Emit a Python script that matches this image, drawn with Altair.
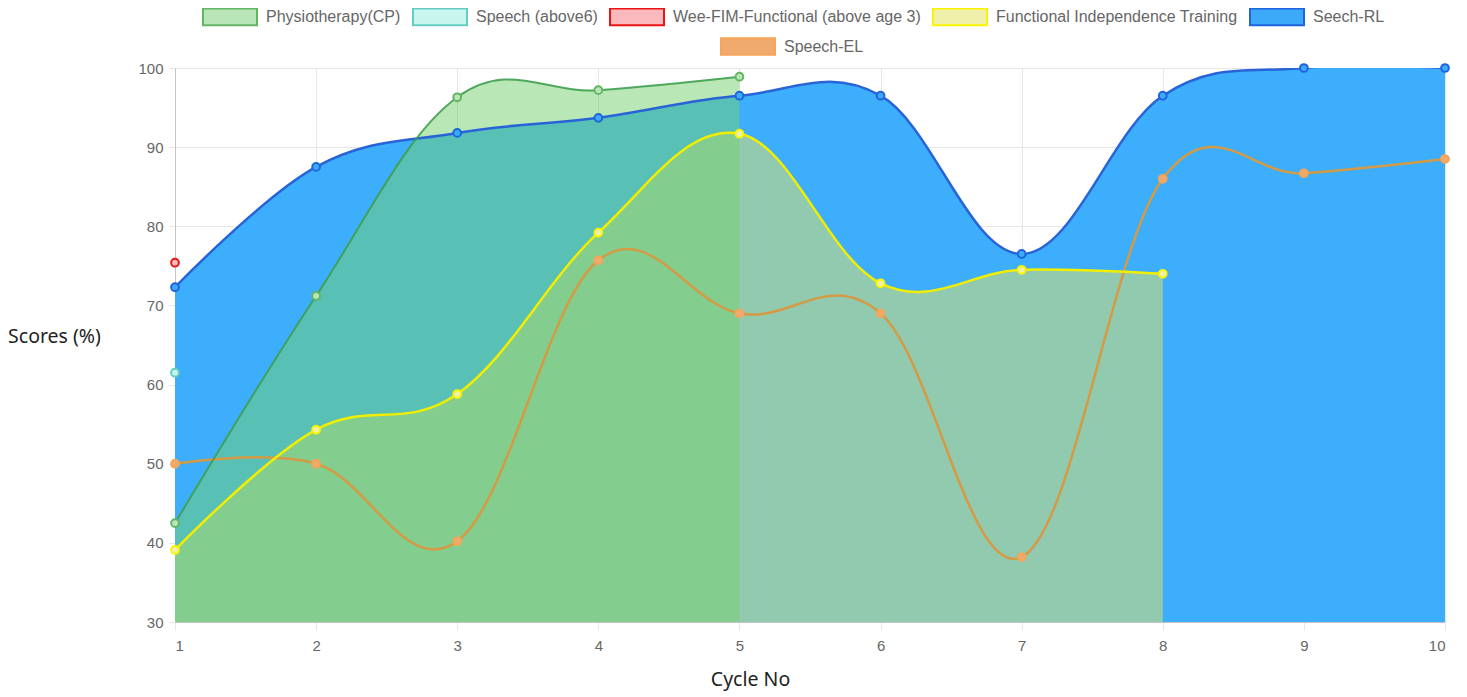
import altair as alt
import pandas as pd

# ---------------- data ----------------
cycles = [1, 2, 3, 4, 5, 6, 7, 8, 9, 10]
series_names = [
    "Physiotherapy(CP)",
    "Speech (above6)",
    "Wee-FIM-Functional (above age 3)",
    "Functional Independence Training",
    "Seech-RL",
]
el_name = "Speech-EL"

physio = [42.5, 71.2, 96.3, 97.2, 98.9]
speech6 = [61.5]
weefim = [75.4]
fit = [39.1, 54.3, 58.8, 79.2, 91.7, 72.8, 74.5, 74.0]
speech_rl = [72.3, 87.5, 91.8, 93.7, 96.5, 96.5, 76.5, 96.5, 100, 100]
speech_el = [50.0, 50.0, 40.2, 75.7, 69.0, 69.0, 38.2, 86.0, 86.7, 88.5]

y_ticks = [30, 40, 50, 60, 70, 80, 90, 100]

rows = []
for name, vals in zip(series_names + [el_name],
                      [physio, speech6, weefim, fit, speech_rl, speech_el]):
    for c, v in zip(cycles, vals):
        rows.append({"series": name, "cycle": c, "score": v})
df = pd.DataFrame(rows)

# ---------------- styling ----------------
legend_fill = ["#b9e6b9", "#c8f5ee", "#fab9bc", "#f0f0aa", "#3caaf8"]
legend_stroke = ["#64b464", "#64cdc3", "#eb1414", "#faf500", "#1e64dc"]
el_fill = ["#f0aa6e"]
el_stroke = ["#f5a55a"]

TENSION = -0.1
x_scale = alt.Scale(domain=[1, 10], nice=False)
y_scale = alt.Scale(domain=[30, 100], nice=False, zero=False)

base = alt.Chart(df)

def enc_xy():
    return dict(
        x=alt.X("cycle:Q", scale=x_scale,
                axis=alt.Axis(values=cycles, title="Cycle No", format="d")),
        y=alt.Y("score:Q", scale=y_scale,
                axis=alt.Axis(values=y_ticks, title="Scores (%)")),
    )

def area_layer(name, color, opacity):
    return base.transform_filter(alt.datum.series == name).mark_area(
        interpolate="cardinal", tension=TENSION, color=color,
        opacity=opacity, clip=True
    ).encode(**enc_xy(), y2=alt.datum(30))

def line_layer(name, color, width=2.5, opacity=1.0):
    return base.transform_filter(alt.datum.series == name).mark_line(
        interpolate="cardinal", tension=TENSION, color=color,
        strokeWidth=width, opacity=opacity, clip=True
    ).encode(**enc_xy())

area_rl = area_layer("Seech-RL", "#3daefb", 1.0)
area_fit = area_layer("Functional Independence Training", "#e7e663", 0.5)
area_phy = area_layer("Physiotherapy(CP)", "#73d26d", 0.5)

line_el = line_layer(el_name, "#d49a44")
line_rl = line_layer("Seech-RL", "#2864d7")
line_fit = line_layer("Functional Independence Training", "#f2ee00")
line_phy = line_layer("Physiotherapy(CP)", "#3f9f4f", 2.0, 0.9)

legend_common = dict(
    orient="none",
    direction="horizontal",
    title=None,
    symbolType="M-1,-0.31H1V0.31H-1Z",
    symbolSize=2916,
    symbolStrokeWidth=2,
    labelFont="Liberation Sans",
    labelFontSize=16,
    labelColor="#666666",
    labelOffset=8,
    labelLimit=400,
    columnPadding=8,
)

points_el = base.transform_filter(alt.datum.series == el_name).mark_point(
    filled=True, shape="circle", size=60, strokeWidth=2, opacity=1
).encode(
    **enc_xy(),
    fill=alt.Fill("series:N", scale=alt.Scale(domain=[el_name], range=el_fill),
                  legend=alt.Legend(legendX=545, legendY=-49.5, **legend_common)),
    stroke=alt.Stroke("series:N", scale=alt.Scale(domain=[el_name], range=el_stroke),
                      legend=alt.Legend(legendX=545, legendY=-49.5, **legend_common)),
)

points_main = base.transform_filter(alt.datum.series != el_name).mark_point(
    filled=True, shape="circle", size=60, strokeWidth=2, opacity=1
).encode(
    **enc_xy(),
    fill=alt.Fill("series:N", scale=alt.Scale(domain=series_names, range=legend_fill),
                  sort=series_names,
                  legend=alt.Legend(legendX=27, legendY=-79.5, **legend_common)),
    stroke=alt.Stroke("series:N", scale=alt.Scale(domain=series_names, range=legend_stroke),
                      sort=series_names,
                      legend=alt.Legend(legendX=27, legendY=-79.5, **legend_common)),
)

chart = alt.layer(
    area_rl, area_fit, area_phy,
    line_el, points_el,
    line_rl, line_fit, line_phy,
    points_main,
).resolve_scale(
    fill="independent", stroke="independent"
).properties(
    width=1270, height=554,
    autosize=alt.AutoSizeParams(type="none"),
    padding={"left": 167, "top": 60, "right": 14, "bottom": 72},
).configure_view(
    stroke=None
).configure_axis(
    gridColor="#e6e6e6",
    tickColor="#e6e6e6",
    domainColor="#c4c4c4",
    labelFont="Liberation Sans",
    labelFontSize=15,
    labelColor="#666666",
    titleFont="Noto Sans",
    titleFontSize=19.5,
    titleFontWeight="normal",
    titleColor="#222222",
).configure_axisY(
    tickSize=6,
    labelPadding=6,
    titleAngle=0,
    titleAlign="center",
    titleBaseline="middle",
    titleX=-121,
    titleY=268,
).configure_axisX(
    tickSize=8,
    labelPadding=8,
    titleAlign="center",
    titleBaseline="middle",
    titleX=575,
    titleY=57,
)

chart.save("out.html", embed_options={"renderer": "svg", "actions": False})
